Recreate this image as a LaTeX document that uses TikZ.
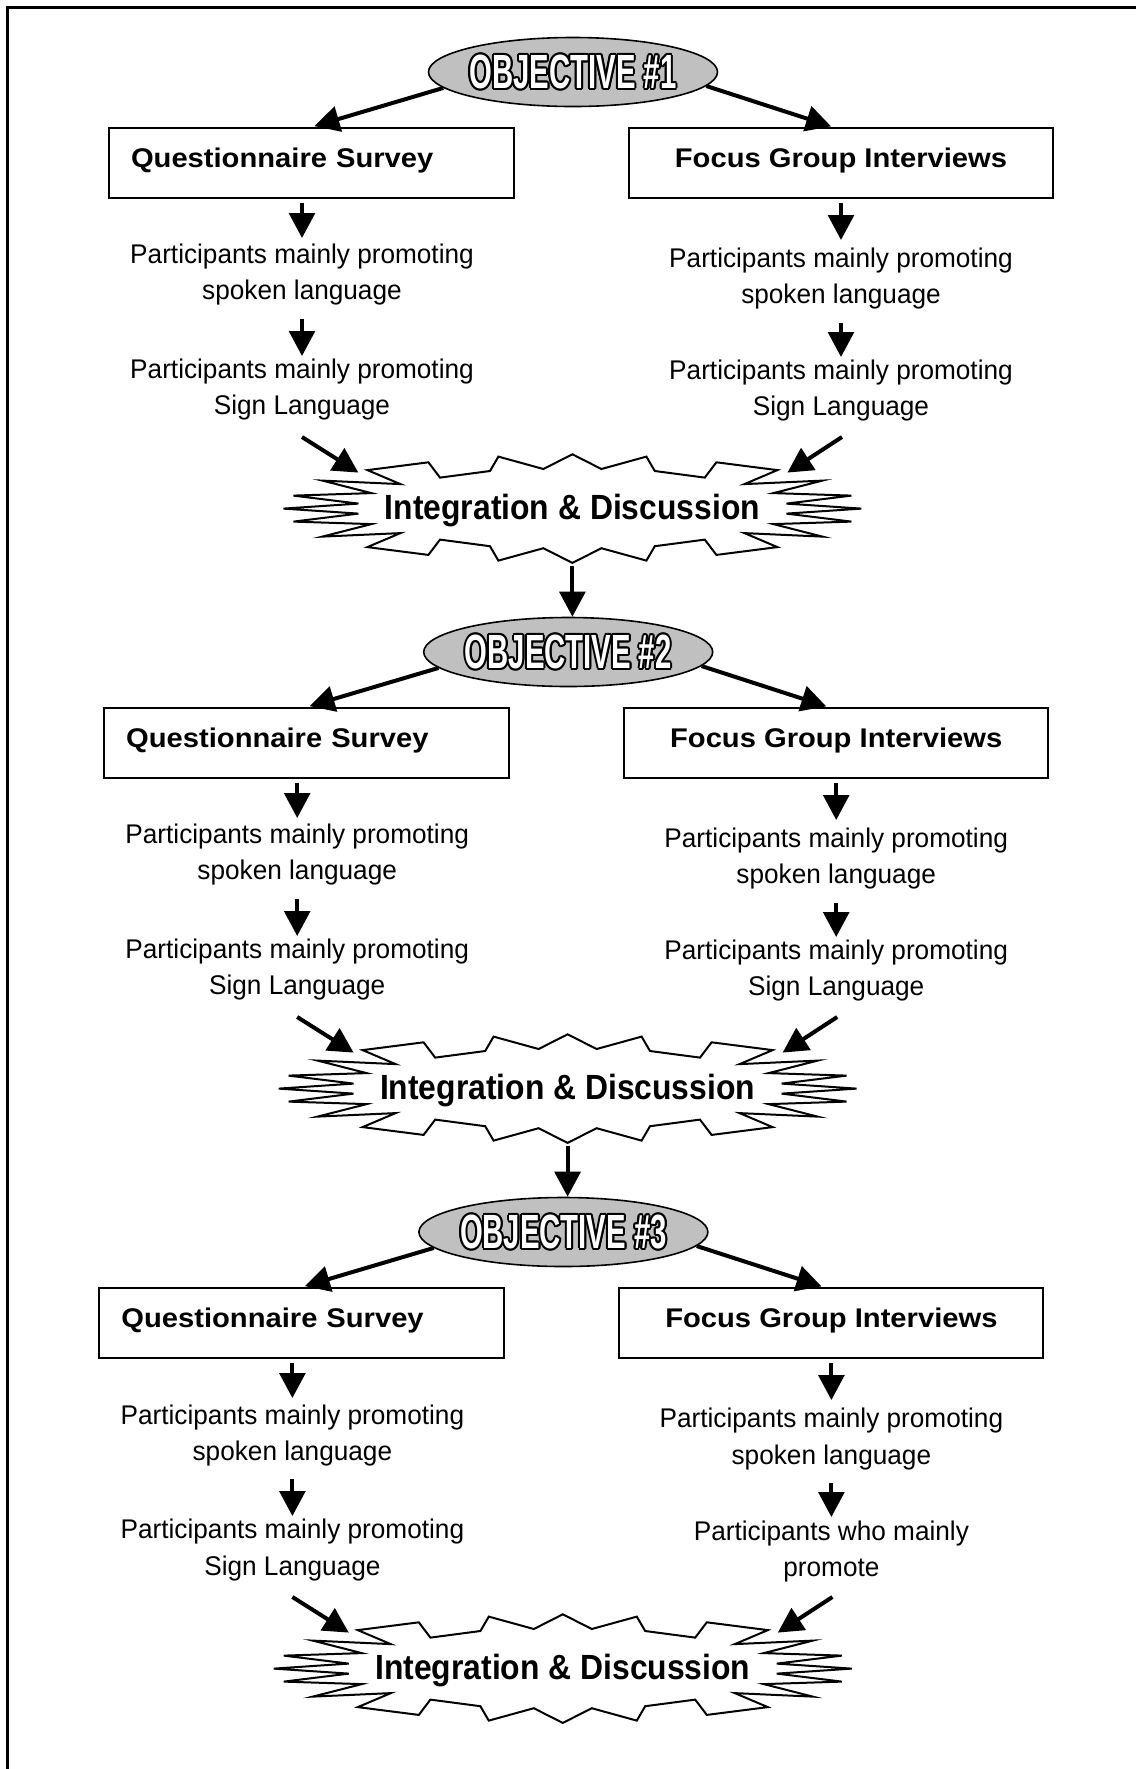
\documentclass[tikz,border=0pt]{standalone}
\usepackage{fontspec}
\usetikzlibrary{arrows.meta,shapes.geometric,calc}
\newfontfamily\bodyfont[FakeStretch=0.97]{Liberation Sans}
\newfontfamily\boxfont[FakeStretch=1.08]{Liberation Sans}
\newfontfamily\burstfont[FakeStretch=0.91]{Liberation Sans}
\newfontfamily\objfont[FakeStretch=0.61]{Liberation Sans}
\definecolor{objgray}{HTML}{C0C0C0}

% white letters with a black rim
\newcommand{\outlined}[1]{%
  \foreach \ang [evaluate=\ang as \dx using {cos(\ang)}, evaluate=\ang as \dy using {sin(\ang)}] in {0,30,...,330}{%
    \rlap{\kern\dx pt\raisebox{\dy pt}{\color{black}#1}}}%
  {\color{white}#1}}

\newcommand{\burstpath}{(-289,0) -- (-214,-5) -- (-279,-13) -- (-201,-15.5) -- (-250,-28) -- (-172,-24.5) -- (-205,-38.5) -- (-144,-46.3) -- (-132.4,-31) -- (-82.4,-37.6) -- (-74,-52) -- (-29,-39.6) -- (0,-54.3) -- (29,-39.6) -- (74,-52) -- (82.4,-37.6) -- (132.4,-31) -- (144,-46.3) -- (205,-38.5) -- (172,-24.5) -- (250,-28) -- (201,-15.5) -- (279,-13) -- (214,-5) -- (289,0) -- (214,5) -- (279,13) -- (201,15.5) -- (250,28) -- (172,24.5) -- (205,38.5) -- (144,46.3) -- (132.4,31) -- (82.4,37.6) -- (74,52) -- (29,39.6) -- (0,54.3) -- (-29,39.6) -- (-74,52) -- (-82.4,37.6) -- (-132.4,31) -- (-144,46.3) -- (-205,38.5) -- (-172,24.5) -- (-250,28) -- (-201,15.5) -- (-279,13) -- (-214,5) -- cycle}

\tikzset{
  arr/.style={line width=2pt, -{Triangle[width=12.8pt,length=12.5pt]}},
  methodbox/.style={draw, line width=1pt, minimum height=35pt, text height=10pt, text depth=6pt,
    font=\boxfont\bfseries\fontsize{13.5pt}{16pt}\selectfont},
  participants/.style={align=center, inner sep=0pt, font=\bodyfont\fontsize{13.5pt}{18pt}\selectfont},
  objective/.style={ellipse, draw, line width=0.8pt, fill=objgray, minimum width=144.5pt, minimum height=34.5pt, inner sep=0pt},
  objlabel/.style={inner sep=0pt, font=\objfont\bfseries\fontsize{24pt}{24pt}\selectfont},
  burst/.style={draw, line width=1pt, fill=white},
  burstlabel/.style={inner sep=0pt, font=\burstfont\bfseries\fontsize{17.5pt}{20pt}\selectfont},
}

\begin{document}
\begin{tikzpicture}[x=0.5pt, y=-0.5pt]
  \useasboundingbox (0,0) rectangle (1136,1769);
  \draw[line width=1.5pt] (7.5,1769) -- (7.5,7.5) -- (1136,7.5);

  \foreach \k/\num/\lastlbl in {0/1/{Participants mainly promoting\\Sign Language},
      1/2/{Participants mainly promoting\\Sign Language},
      2/3/{Participants who mainly\\promote}}{
    \begin{scope}[shift={(-4.8*\k,580*\k)}]
      \node[objective] (obj\k) at (573,72) {};
      \node[objlabel] (objt\k) at (obj\k) {\outlined{OBJECTIVE \#\num}};

      \node[methodbox, text width=180.5pt, inner xsep=11pt, align=left] (q\k) at (311.5,163) {Questionnaire Survey};
      \node[methodbox, minimum width=212pt] (f\k) at (841,163) {Focus Group Interviews};

      \node[participants] (sp\k) at (302,275) {Participants mainly promoting\\spoken language};
      \node[participants] (sg\k) at (302,390) {Participants mainly promoting\\Sign Language};
      \node[participants] (fsp\k) at (841,279) {Participants mainly promoting\\spoken language};
      \node[participants] (fsg\k) at (841,391) {\lastlbl};

      \begin{scope}[shift={(572.4,508.6)}]
        \draw[burst] \burstpath;
        \node[burstlabel] (int\k) at (0,1.5) {Integration \& Discussion};
        \coordinate (bw\k) at (-214,-36);
        \coordinate (be\k) at (215,-36);
        \coordinate (bs\k) at (0,55);
      \end{scope}

      \draw[arr, shorten >=1.5pt] (obj\k.187) -- (q\k.north);
      \draw[arr, shorten >=1pt] (obj\k.354) -- ([xshift=-4pt]f\k.north);
      \draw[arr, shorten <=2pt, shorten >=3pt] (sp\k.north |- q\k.south) -- (sp\k.north);
      \draw[arr, shorten <=6.5pt, shorten >=1.5pt] (sp\k.south) -- (sg\k.north);
      \draw[arr, shorten <=2pt, shorten >=4pt] (f\k.south) -- (fsp\k.north);
      \draw[arr, shorten <=6.5pt, shorten >=1.5pt] (fsp\k.south) -- (fsg\k.north);
      \draw[arr] ($(sg\k.south)+(0,16)$) -- (bw\k);
      \draw[arr] ($(fsg\k.south)+(1,15)$) -- (be\k);
    \end{scope}
  }

  \foreach \k/\n in {0/1,1/2}
    \draw[arr, shorten <=1pt] (bs\k) -- (bs\k |- obj\n.north);
\end{tikzpicture}
\end{document}
